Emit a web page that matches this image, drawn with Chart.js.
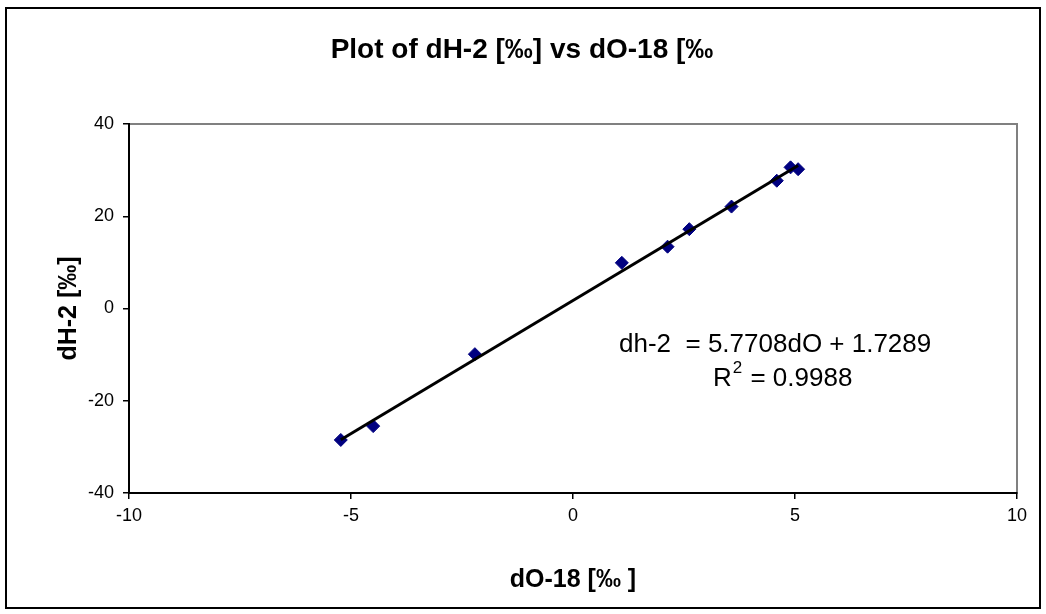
<!DOCTYPE html>
<html>
<head>
<meta charset="utf-8">
<script src="https://cdn.jsdelivr.net/npm/chart.js@4"></script>
<style>
  html, body { margin: 0; padding: 0; background: #fff; }
  #wrap { position: relative; width: 1046px; height: 614px; }
</style>
</head>
<body>
<div id="wrap"><canvas id="chart" width="1046" height="614"></canvas></div>
<script>
// values
const dO18 = [-5.23, -4.50, -2.21, 1.10, 2.13, 2.62, 3.57, 4.59, 4.90, 5.07];
const dH2 = [-28.5, -25.5, -9.9, 9.9, 13.4, 17.2, 22.1, 27.7, 30.6, 30.2];
const xTickValues = [-10, -5, 0, 5, 10];
const yTickValues = [-40, -20, 0, 20, 40];

// trendline as printed on the chart
const trendSlope = 5.7708;
const trendIntercept = 1.7289;
const trendR2 = 0.9988;

const chartTitle = "Plot of dH-2 [‰] vs dO-18 [‰";
const xTitle = "dO-18 [‰ ]";
const yTitle = "dH-2 [‰]";

const FONT = '"Liberation Sans", Arial, Helvetica, sans-serif';
const MARKER_COLOR = "#000080";

const xMin = Math.min(...dO18);
const xMax = Math.max(...dO18);
const trendPoints = [xMin, xMax].map((x) => ({ x, y: trendSlope * x + trendIntercept }));
const scatterPoints = dO18.map((x, i) => ({ x, y: dH2[i] }));

const excelDecorPlugin = {
  id: "excelDecor",
  beforeDraw(chart) {
    const { ctx, chartArea: a } = chart;
    ctx.save();
    ctx.fillStyle = "#fff";
    ctx.fillRect(0, 0, chart.width, chart.height);
    // outer frame
    ctx.strokeStyle = "#000";
    ctx.lineWidth = 2;
    ctx.strokeRect(6, 8, 1034, 600);
    // plot area border
    ctx.strokeStyle = "#808080";
    ctx.lineWidth = 2;
    ctx.strokeRect(a.left, a.top, a.right - a.left, a.bottom - a.top);
    ctx.restore();
  },
  afterDraw(chart) {
    const { ctx, chartArea: a } = chart;
    ctx.save();
    ctx.fillStyle = "#000";
    ctx.textBaseline = "alphabetic";

    ctx.font = `bold 28px ${FONT}`;
    ctx.textAlign = "center";
    ctx.fillText(chartTitle, 522, 58);

    ctx.font = `bold 25px ${FONT}`;
    ctx.fillText(xTitle, (a.left + a.right) / 2, 587);

    ctx.save();
    ctx.translate(76, (a.top + a.bottom) / 2);
    ctx.rotate(-Math.PI / 2);
    ctx.fillText(yTitle, 0, 0);
    ctx.restore();

    // trendline label
    ctx.textAlign = "left";
    ctx.font = `26px ${FONT}`;
    const eq = `dh-2  = ${trendSlope.toFixed(4)}dO + ${trendIntercept.toFixed(4)}`;
    ctx.fillText(eq, 619, 352);
    ctx.fillText("R", 713, 386);
    const rw = ctx.measureText("R").width;
    ctx.font = `17px ${FONT}`;
    ctx.fillText("2", 713 + rw + 1, 373);
    const sw = ctx.measureText("2").width;
    ctx.font = `26px ${FONT}`;
    ctx.fillText(` = ${trendR2.toFixed(4)}`, 713 + rw + sw + 2, 386);
    ctx.restore();
  },
};

new Chart(document.getElementById("chart"), {
  type: "scatter",
  data: {
    datasets: [
      {
        type: "line",
        label: "Linear (dH-2)",
        data: trendPoints,
        borderColor: "#000",
        borderWidth: 3,
        pointRadius: 0,
        fill: false,
        order: 0,
      },
      {
        label: "dH-2",
        data: scatterPoints,
        pointStyle: "rectRot",
        pointRadius: 6.5,
        pointHoverRadius: 6.5,
        backgroundColor: MARKER_COLOR,
        borderColor: MARKER_COLOR,
        borderWidth: 1,
        order: 1,
      },
    ],
  },
  plugins: [excelDecorPlugin],
  options: {
    responsive: false,
    animation: false,
    layout: { padding: { left: 0, top: 124, right: 29, bottom: 0 } },
    plugins: {
      legend: { display: false },
      tooltip: { enabled: false },
    },
    scales: {
      x: {
        type: "linear",
        min: -10,
        max: 10,
        afterBuildTicks: (scale) => {
          scale.ticks = xTickValues.map((value) => ({ value }));
        },
        afterFit: (scale) => {
          scale.height = 121;
        },
        ticks: {
          color: "#000",
          font: { family: FONT, size: 18 },
          padding: 6,
          maxRotation: 0,
        },
        grid: {
          drawOnChartArea: false,
          drawTicks: true,
          tickLength: 6,
          color: "#000",
          lineWidth: 1.5,
        },
        border: { display: true, color: "#000", width: 2 },
      },
      y: {
        type: "linear",
        min: -40,
        max: 40,
        afterBuildTicks: (scale) => {
          scale.ticks = yTickValues.map((value) => ({ value }));
        },
        afterFit: (scale) => {
          scale.width = 129;
        },
        ticks: {
          color: "#000",
          font: { family: FONT, size: 18 },
          padding: 9,
        },
        grid: {
          drawOnChartArea: false,
          drawTicks: true,
          tickLength: 6,
          color: "#000",
          lineWidth: 1.5,
        },
        border: { display: true, color: "#000", width: 2 },
      },
    },
  },
});
</script>
</body>
</html>
